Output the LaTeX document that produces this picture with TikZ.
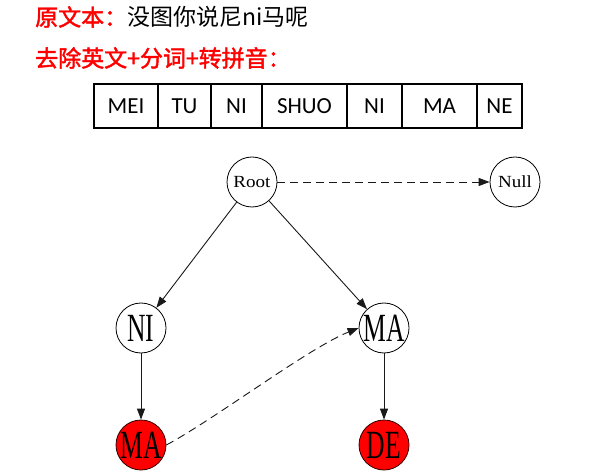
\documentclass[tikz,border=0pt]{standalone}
\usepackage{fontspec}
\usetikzlibrary{arrows.meta}
\newfontfamily\cjk{Noto Sans CJK SC}
\newfontfamily\cjkb[FakeBold=1.8]{Noto Sans CJK SC}
\newfontfamily\cellfont{Carlito}
\newfontfamily\gvserif{Liberation Serif}
\definecolor{gvred}{RGB}{255,0,0}
\tikzset{
  title/.style={anchor=west,inner sep=0pt,font=\fontsize{23bp}{26bp}\selectfont},
  cell/.style={draw,line width=1.4bp,anchor=west,outer sep=0pt,minimum height=44bp,inner sep=0pt,font=\cellfont\fontsize{23bp}{25bp}\selectfont},
  gvnode/.style={circle,draw,line width=0.8bp,minimum size=50bp,inner sep=0pt},
  small/.style={gvnode,font=\gvserif\fontsize{17bp}{18bp}\selectfont},
  big/.style={gvnode,font=\gvserif\fontsize{40bp}{42bp}\selectfont},
  hot/.style={big,fill=gvred,draw=black!80!red},
  edge/.style={line width=0.9bp,draw=black!90,-{Triangle[length=11bp,width=8bp]}},
}
\newcommand{\tallt}[1]{\scalebox{0.64}[1]{#1}}
\newcommand{\widet}[1]{\scalebox{1.12}[1]{#1}}
\begin{document}
\begin{tikzpicture}[x=1bp,y=-1bp]
\useasboundingbox[fill=white] (0,0) rectangle (604,473);
\node[title] (l1) at (35,17) {\cjkb\textcolor{gvred}{原文本：}\cjk 没图你说尼ni马呢};
\node[title] (l2) at (35,58) {\cjkb\textcolor{gvred}{去除英文+分词+转拼音：}};
\node[cell,minimum width=64bp] (c1) at (94,106) {MEI};
\node[cell,minimum width=53bp] (c2) at (c1.east) {TU};
\node[cell,minimum width=51bp] (c3) at (c2.east) {NI};
\node[cell,minimum width=85bp] (c4) at (c3.east) {SHUO};
\node[cell,minimum width=55bp] (c5) at (c4.east) {NI};
\node[cell,minimum width=75bp] (c6) at (c5.east) {MA};
\node[cell,minimum width=45bp] (c7) at (c6.east) {NE};
\node[small] (root) at (252,182) {\widet{Root}};
\node[small] (null) at (515,182) {\widet{Null}};
\node[big] (ni) at (141,328) {\tallt{NI}};
\node[big] (ma) at (384,328) {\tallt{MA}};
\node[hot] (ma1) at (141,445) {\tallt{MA}};
\node[hot] (de) at (384,445) {\tallt{DE}};
\draw[edge,dash pattern=on 8bp off 5bp] (root) -- (null);
\draw[edge] (root) -- (ni);
\draw[edge] (root) -- (ma);
\draw[edge] (ni) -- (ma1);
\draw[edge] (ma) -- (de);
\draw[edge,dash pattern=on 8bp off 5bp] (ma1.east) .. controls +(50,-27) and +(-50,20) .. (ma.west);
\end{tikzpicture}
\end{document}
